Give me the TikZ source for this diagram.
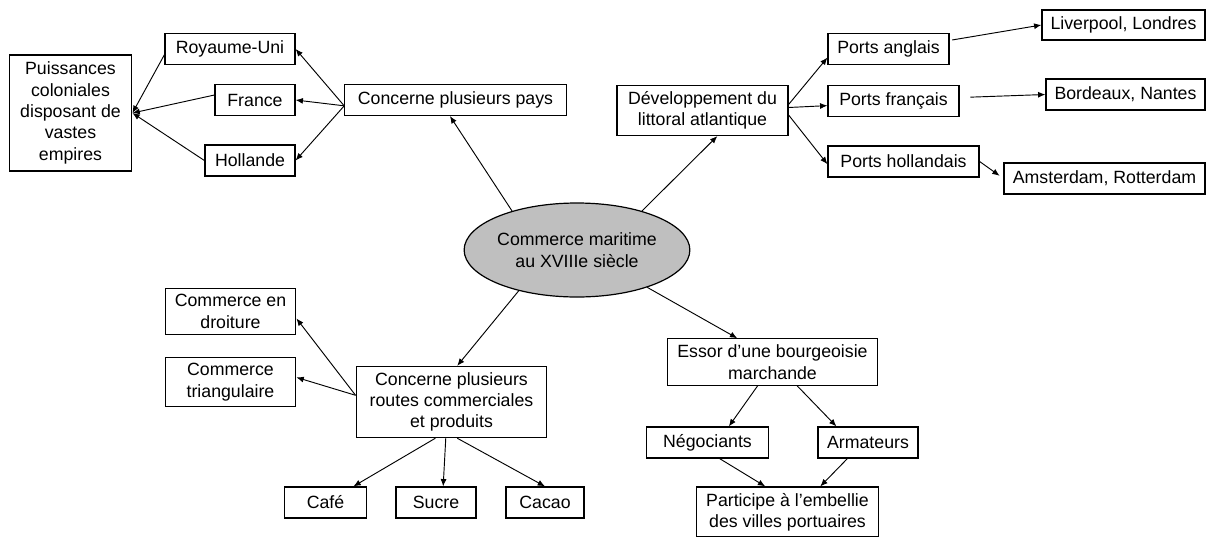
\documentclass[tikz,border=0pt]{standalone}
\usepackage{fontspec}
\setmainfont{Liberation Sans}
\usetikzlibrary{arrows.meta,shapes.geometric}

\begin{document}
\begin{tikzpicture}
  [x=0.75pt,y=-0.75pt,
   every node/.style={font=\fontsize{13.3}{16}\selectfont,align=center},
   box/.style={draw,line width=0.9pt,inner xsep=3pt,inner ysep=4.5pt,minimum height=23.25pt},
   arr/.style={line width=0.7pt,-{Latex[length=5.5pt,width=4.5pt]}}]
  \useasboundingbox (0,0) rectangle (1206,536);

  % centre
  \node[draw,ellipse,fill=black!25,line width=0.9pt,inner sep=0pt,
        minimum width=151.5pt,minimum height=70.5pt] (centre) at (577,250)
        {Commerce maritime\\au XVIIIe si\`ecle};

  % haut gauche
  \node[box,minimum width=92pt,minimum height=87pt] (puis) at (70.5,113)
        {Puissances\\coloniales\\disposant de\\vastes\\empires};
  \node[box,minimum width=97.5pt] (ru)  at (230,49)  {Royaume-Uni};
  \node[box,minimum width=60pt]   (fr)  at (255,100) {France};
  \node[box,minimum width=67.5pt] (hol) at (250,160.5) {Hollande};
  \node[box,minimum width=166pt]  (pays) at (455.5,100) {Concerne plusieurs pays};

  % haut droite
  \node[box,minimum width=128.25pt] (dev) at (702.5,110.5) {Développement du\\littoral atlantique};
  \node[box,minimum width=90.75pt]  (pa)  at (888.5,49)    {Ports anglais};
  \node[box,minimum width=98.25pt]  (pf)  at (893.5,101)   {Ports français};
  \node[box,minimum width=113.25pt] (ph)  at (903.5,161.5) {Ports hollandais};
  \node[box,minimum width=122.25pt,minimum height=22.5pt] (liv) at (1123.5,25) {Liverpool, Londres};
  \node[box,minimum width=119.25pt] (bor) at (1125.5,94.5)  {Bordeaux, Nantes};
  \node[box,minimum width=150.75pt] (ams) at (1104.5,178.5) {Amsterdam, Rotterdam};

  % bas gauche
  \node[box,minimum width=98pt]   (droit) at (230.5,311.5) {Commerce en\\droiture};
  \node[box,minimum width=98pt]   (tri)   at (230.5,382)   {Commerce\\triangulaire};
  \node[box,minimum width=143pt]  (routes) at (451.5,402)
        {Concerne plusieurs\\routes commerciales\\et produits};
  \node[box,minimum width=61pt]   (cafe)  at (325.5,502.5) {Café};
  \node[box,minimum width=60pt]   (sucre) at (436,502.5)   {Sucre};
  \node[box,minimum width=58.5pt] (cacao) at (545,502.5)   {Cacao};

  % bas droite
  \node[box,minimum width=158pt]  (essor) at (772.5,362) {Essor d’une bourgeoisie\\marchande};
  \node[box,minimum width=91pt]   (nego)  at (707.5,442.5) {Négociants};
  \node[box,minimum width=75pt]   (arm)   at (868,442.5) {Armateurs};
  \node[box,minimum width=136pt]  (part)  at (787.5,512) {Participe à l’embellie\\des villes portuaires};

  \foreach \from/\to in {pays.183/ru.east,pays.183/fr.east,pays.183/hol.east,
      ru.185/puis.east,fr.173/puis.east,hol.west/puis.east,
      centre.149/pays.-109,centre.31/dev.-60,
      dev.4/pa.188,dev.2/pf.184,dev.-3/ph.182,
      centre.-145/routes.81,centre.-28/essor.146,
      routes.176/droit.-6,routes.176/tri.4,
      routes.-114/cafe.30,routes.-99/sucre.66,routes.-81/cacao.north,
      essor.-122/nego.37,essor.-44/arm.153,
      nego.-53/part.131,arm.-142/part.38}
    \draw[arr] (\from) -- (\to);

  \draw[arr,shorten <=2pt] (pa.8) -- (liv.west);
  \draw[arr,shorten <=8pt] (pf.3) -- (bor.west);
  \draw[arr,shorten >=3.5pt] (ph.east) -- (ams.west);
\end{tikzpicture}
\end{document}
